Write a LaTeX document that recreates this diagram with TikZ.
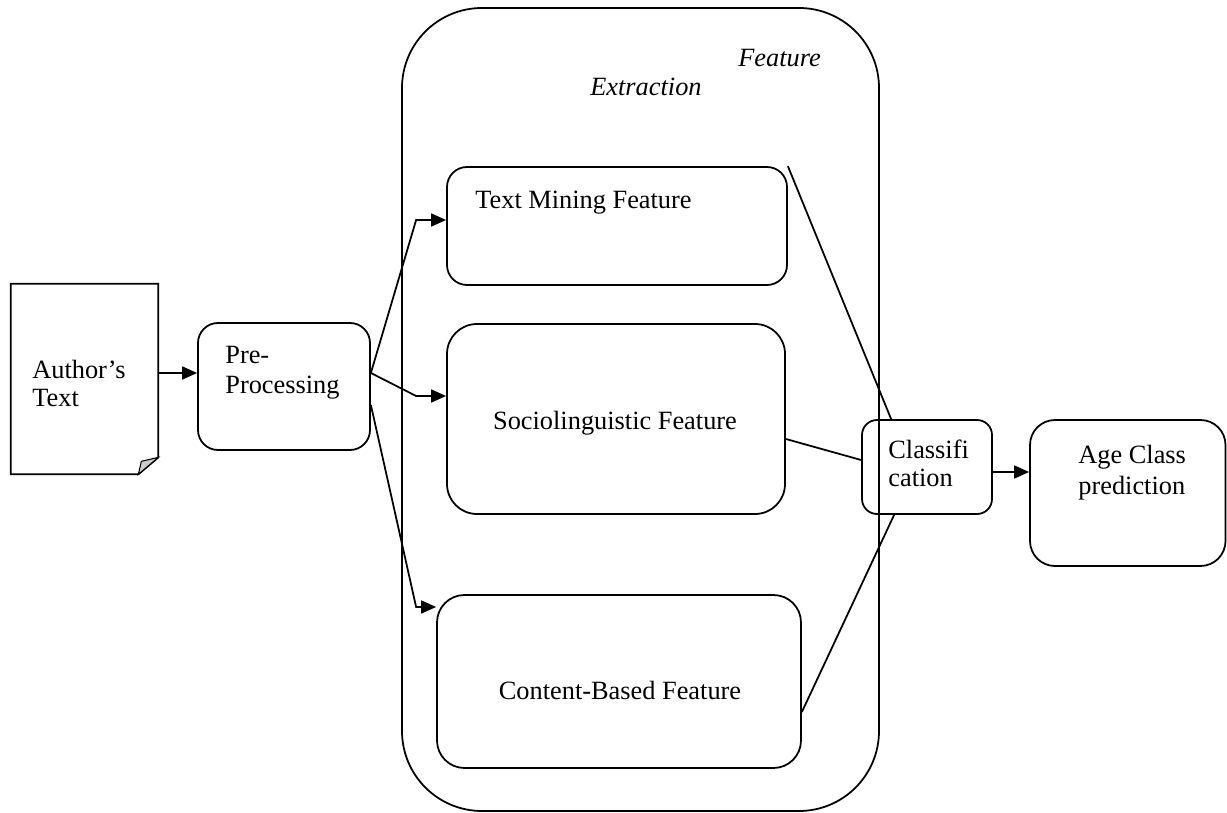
\documentclass[tikz,border=0pt]{standalone}
\usepackage{fontspec}
\setmainfont{Liberation Serif}
\usetikzlibrary{arrows.meta, calc, fit}

\tikzset{
	box/.style = {draw, line width = 1pt, rounded corners = #1, inner sep = 0pt},
	box/.default = 4mm,
	txt/.style = {font = \fontsize{15}{16}\selectfont, inner sep = 0pt, align = left},
	link/.style = {line width = 1pt}
}

\begin{document}
\begin{tikzpicture}[x = 0.02cm, y = -0.02cm, > = {Triangle[length = 3mm, width = 2.6mm]}]

	\useasboundingbox (0, 0) rectangle (1227, 813);

	% Feature extraction frame

	\node (frame) [box = 16mm, fit = {(402, 8) (879, 811)}] {};
	\node (frame top) [txt, anchor = base west, font = \fontsize{15}{16}\selectfont\itshape] at (738, 67) {Feature};
	\node (frame bottom) [txt, anchor = base west, font = \fontsize{15}{16}\selectfont\itshape] at (590, 96) {Extraction};

	% Author's text document

	\node (author) [inner sep = 0pt, fit = {(11, 284) (158, 474)}] {};
	\draw [link] (author.north west) -- (author.north east) -- ($(author.south east) + (0, -17)$)
		-- ($(author.south east) + (-20, 0)$) -- (author.south west) -- cycle;
	\draw [link, line width = 0.6pt, fill = gray!40] ($(author.south east) + (0, -17)$)
		-- ($(author.south east) + (-17, -13)$) -- ($(author.south east) + (-20, 0)$) -- cycle;
	\node (author text) [txt, anchor = base west] at (32, 407) {Author’s\\Text};

	% Boxes

	\node (pre) [box, fit = {(198, 323) (370, 450)}] {};
	\node (mining) [box, fit = {(447, 167) (787, 285)}] {};
	\node (socio) [box = 6mm, fit = {(447, 324) (785, 514)}] {};
	\node (content) [box = 5.5mm, fit = {(437, 595) (801, 768)}] {};
	\node (classif) [box = 3mm, fit = {(862, 420) (992, 514)}] {};
	\node (age) [box = 5mm, fit = {(1030, 420) (1225.5, 566)}] {};

	% Box texts

	\node (pre text) [txt, anchor = base west] at (225, 394) {Pre-\\[1.6pt]Processing};
	\node (mining text) [txt, anchor = base west] at (475, 209) {Text Mining Feature};
	\node (socio text) [txt, anchor = base] at (615, 430) {Sociolinguistic Feature};
	\node (content text) [txt, anchor = base] at (620, 700) {Content-Based Feature};
	\node (classif text) [txt, anchor = base west] at (888, 487) {Classifi\\[0.4pt]cation};
	\node (age text) [txt, anchor = base west] at (1078, 495) {Age Class\\[2pt]prediction};

	% Connectors

	\coordinate (fork) at ($(pre.east) + (0, -13.5)$);
	\coordinate (fork low) at ($(pre.east) + (0, 18.5)$);

	\draw [link, ->] ($(author.east) + (0, -6)$) -- ($(pre.west) + (0, -13.5)$);
	\draw [link, ->] (fork) -- ($(mining.west) + (-30, -6)$) -- ($(mining.west) + (0, -6)$);
	\draw [link, ->] (fork) -- ($(socio.west) + (-30, -23)$) -- ($(socio.west) + (0, -23)$);
	\draw [link, ->] (fork low) -- ($(content.west) + (-20, -74.5)$) -- ($(content.west) + (0, -74.5)$);

	\draw [link] (mining.north east) -- ($(classif.north west) + (30, 0)$);
	\draw [link] ($(socio.east) + (0, 20)$) -- ($(classif.west) + (0, -7)$);
	\draw [link] ($(content.east) + (0, 30.5)$) -- ($(classif.south west) + (33, 0)$);

	\coordinate (age in) at (classif.east -| age.west);
	\draw [link, ->] ($(classif.east) + (0, 5)$) -- ($(age in) + (0, 5)$);

\end{tikzpicture}
\end{document}
